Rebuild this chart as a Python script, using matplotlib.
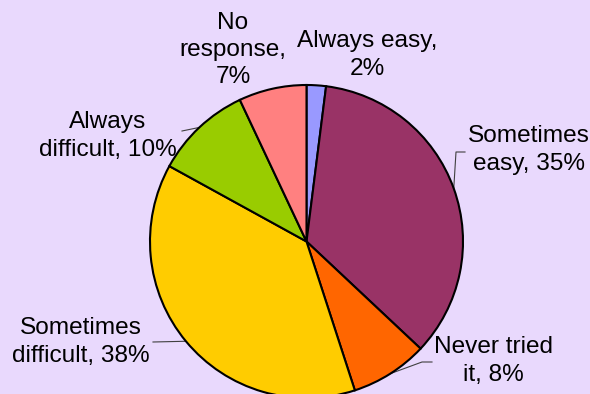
import numpy as np
import matplotlib
matplotlib.use("Agg")
import matplotlib.pyplot as plt

# Survey answers, clockwise from 12 o'clock
categories = ["Always easy", "Sometimes easy", "Never tried it",
              "Sometimes difficult", "Always difficult", "No response"]
percent = [2, 35, 8, 38, 10, 7]
# how each label wraps before the percentage
label_heads = ["Always easy,\n", "Sometimes\neasy, ", "Never tried\nit, ",
               "Sometimes\ndifficult, ", "Always\ndifficult, ", "No\nresponse,\n"]
colors = ["#9999FF", "#993366", "#FF6600", "#FFCC00", "#99CC00", "#FF8080"]

W, H = 590, 394
BG = "#E9D9FD"

# label centres and leader elbows, in pixels from the top-left corner
label_pos = [(367, 55), (529, 150), (493, 361), (81, 342), (108, 136), (233, 50)]
leader_elbow = [None, [(465, 152), (456, 152)], [(432, 362), (422, 362)],
                [(153, 342)], [(182, 131)], None]


def py(y):
    return H - y


fig = plt.figure(figsize=(W / 100, H / 100), dpi=100, facecolor=BG)
ax = fig.add_axes([0, 0, 1, 1])
ax.set_facecolor(BG)

cx, cy, r = 306.5, py(241.5), 156.5
wedges, _ = ax.pie(percent, colors=colors, startangle=90, counterclock=False,
                   center=(cx, cy), radius=r, frame=True,
                   wedgeprops=dict(edgecolor="black", linewidth=1.5, zorder=3))

for i, w in enumerate(wedges):
    label = label_heads[i] + f"{percent[i]}%"
    x, y = label_pos[i]
    ax.text(x, py(y), label, ha="center", va="center", fontsize=17.6,
            family="Liberation Sans", color="black", linespacing=1.3)
    if leader_elbow[i] is not None:
        mid = np.deg2rad((w.theta1 + w.theta2) / 2)
        pts = [(px, py(yy)) for px, yy in leader_elbow[i]]
        pts.append((cx + r * np.cos(mid), cy + r * np.sin(mid)))
        xs, ys = zip(*pts)
        ax.plot(xs, ys, color="#404040", lw=0.8, zorder=1)

ax.set_xlim(0, W)
ax.set_ylim(0, H)
ax.set_aspect("equal")
ax.axis("off")

fig.savefig("out.png", dpi=100, facecolor=BG)
